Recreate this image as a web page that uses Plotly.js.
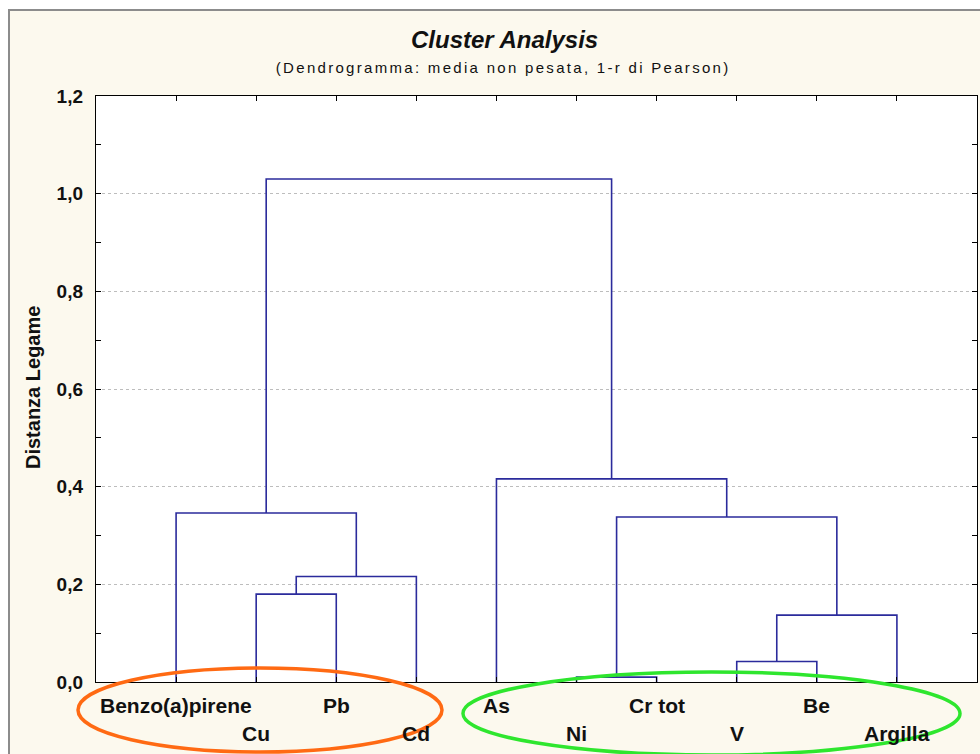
<!DOCTYPE html>
<html><head><meta charset="utf-8">
<script src="https://cdn.plot.ly/plotly-3.0.1.min.js"></script>
<style>
html,body{margin:0;padding:0;background:#fff;overflow:hidden;width:980px;height:754px;}
#frame{position:absolute;left:8px;top:9px;border-left:2px solid #8c8c8c;border-top:2px solid #8c8c8c;background:#fcf9ee;width:990px;height:760px;}
#plot{width:990px;height:760px;}
</style></head><body>
<div id="frame"><div id="plot"></div></div>
<script>
// ---- data ----
const leaves = ['Benzo(a)pirene','Cu','Pb','Cd','As','Ni','Cr tot','V','Be','Argilla'];
const leafPositions = [1,2,3,4,5,6,7,8,9,10];
// linkage: node ids 0-9 are leaves, 10+ are clusters in merge order
const mergeLeft   = [1, 10, 0, 5, 7, 14, 13, 4, 12];
const mergeRight  = [2, 3, 11, 6, 8, 9, 15, 16, 17];
const mergeHeight = [0.180, 0.216, 0.346, 0.010, 0.042, 0.137, 0.338, 0.416, 1.030];
const yTickVals = [0, 0.2, 0.4, 0.6, 0.8, 1.0, 1.2];

// ---- build dendrogram segments ----
const nodeX = leafPositions.slice();
const nodeY = leaves.map(() => 0);
const segX = [], segY = [];
for (let i = 0; i < mergeHeight.length; i++) {
  const a = mergeLeft[i], b = mergeRight[i], h = mergeHeight[i];
  segX.push(nodeX[a], nodeX[a], nodeX[b], nodeX[b], null);
  segY.push(nodeY[a], h, h, nodeY[b], null);
  nodeX.push((nodeX[a] + nodeX[b]) / 2);
  nodeY.push(h);
}

// plot area in page pixels: x 96..977, y 96..682
const PX0 = 96, PX1 = 977, PY0 = 96, PY1 = 682;
const px = x => (x - PX0) / (PX1 - PX0);
const py = y => (PY1 - y) / (PY1 - PY0);

const FONT = 'Liberation Sans, Arial, sans-serif';
const base = {xref:'paper', yref:'paper', showarrow:false, xanchor:'center', yanchor:'middle'};

const annotations = [
  Object.assign({}, base, {text:'<b><i>Cluster Analysis</i></b>', x:px(504), y:py(40),
    font:{family:FONT, size:24, color:'#111'}}),
  Object.assign({}, base, {text:'(Dendrogramma: media non pesata, 1-r di Pearson)', x:px(503), y:py(68),
    font:{family:FONT, size:15, color:'#111'}}),
  Object.assign({}, base, {text:'<b>Distanza Legame</b>', x:px(33), y:py(388), textangle:-90,
    font:{family:FONT, size:20, color:'#111'}})
];
leaves.forEach((name, i) => {
  annotations.push(Object.assign({}, base, {text:'<b>' + name + '</b>', xref:'x', x:leafPositions[i],
    y: py(i % 2 ? 733 : 705), font:{family:FONT, size:21, color:'#111'}}));
});

const shapes = [
  {type:'circle', xref:'paper', yref:'paper', x0:px(78), x1:px(442), y0:py(668), y1:py(752),
   line:{color:'#ff6a13', width:3.5}},
  {type:'circle', xref:'paper', yref:'paper', x0:px(463), x1:px(960), y0:py(672), y1:py(755),
   line:{color:'#2ee62e', width:3.5}}
];

const trace = {x:segX, y:segY, type:'scatter', mode:'lines', line:{color:'#2b2b9c', width:1.6},
  hoverinfo:'skip', showlegend:false};

const layout = {
  width:990, height:760,
  margin:{l:PX0-10, t:PY0-11, r:990-(PX1-10), b:760-(PY1-11), pad:0},
  paper_bgcolor:'rgba(0,0,0,0)', plot_bgcolor:'#ffffff',
  separators:', ',
  showlegend:false,
  xaxis:{range:[0,11], tickvals:leafPositions, showticklabels:false, ticks:'inside', ticklen:5,
    tickcolor:'#000', showgrid:false, zeroline:false, showline:true, linecolor:'#000', linewidth:1.2,
    mirror:'ticks', fixedrange:true},
  yaxis:{range:[0,1.2], tickvals:yTickVals, tickformat:'.1f', ticks:'inside', ticklen:5, tickcolor:'#000',
    showgrid:true, gridcolor:'#bdbdbd', griddash:'dot', gridwidth:1, zeroline:false,
    showline:true, linecolor:'#000', linewidth:1.2, mirror:'ticks', ticklabelstandoff:8,
    tickfont:{family:FONT, size:19, color:'#111', weight:'bold'},
    minor:{dtick:0.1, ticks:'inside', ticklen:5, tickcolor:'#000', showgrid:false}, fixedrange:true},
  annotations, shapes
};

Plotly.newPlot('plot', [trace], layout, {staticPlot:true, displayModeBar:false}).then(() => {
  document.querySelectorAll('.annotation-text').forEach(t => {
    if (t.textContent.indexOf('(Dendro') === 0) t.style.letterSpacing = '2.3px';
  });
});
</script>
</body></html>
